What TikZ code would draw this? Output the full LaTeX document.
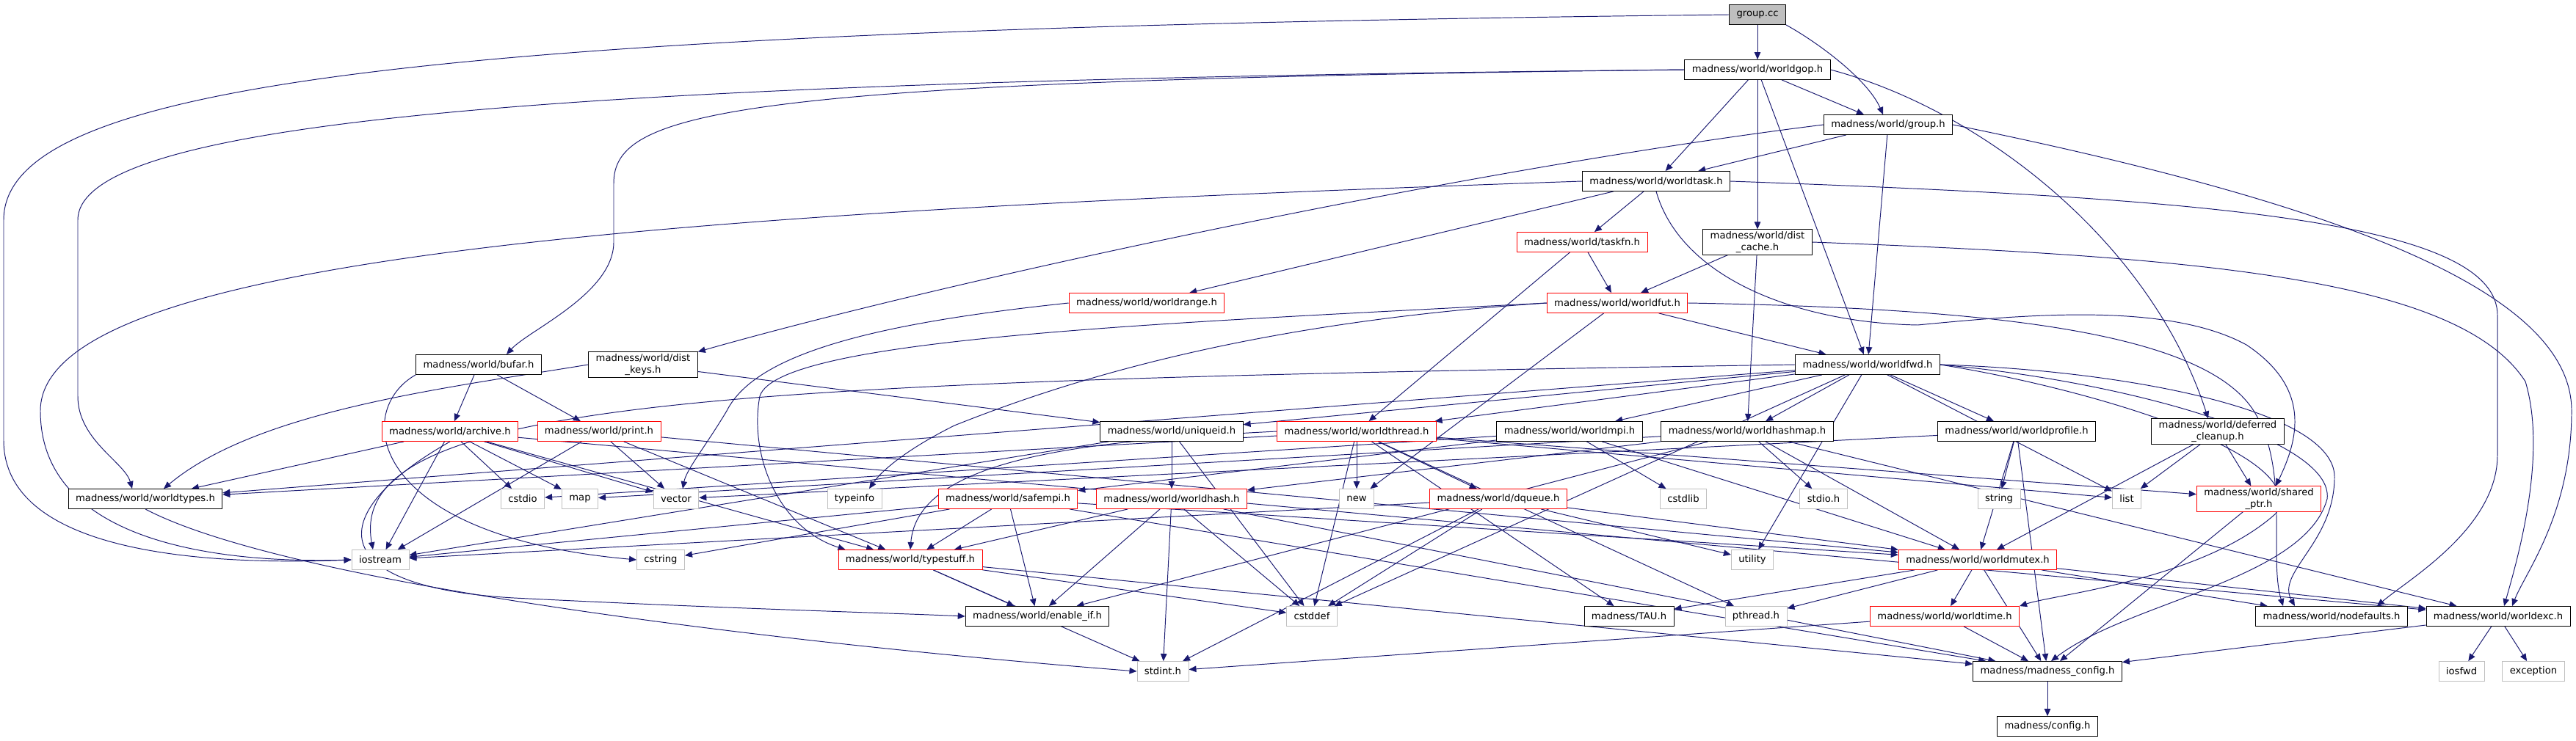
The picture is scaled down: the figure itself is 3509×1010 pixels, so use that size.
\documentclass[tikz,border=0pt]{standalone}
\usepackage{fontspec}
\setmainfont{DejaVu Sans}
\usetikzlibrary{arrows.meta,calc}
\definecolor{edgeblue}{HTML}{191970}
\definecolor{sysgray}{HTML}{BFBFBF}
\pgfdeclarelayer{background}
\pgfsetlayers{background,main}
\begin{document}
\begin{tikzpicture}[
  x=0.02cm, y=-0.02cm,
  hdr/.style={draw=black, fill=white, line width=0.5pt, inner xsep=0.2cm, inner ysep=0.06cm,
    minimum height=0.54cm, align=center, font=\fontsize{7.5}{8.6}\selectfont},
  part/.style={hdr, draw=red},
  sys/.style={hdr, draw=sysgray},
  root/.style={hdr, fill=sysgray},
  dep/.style={draw=edgeblue, line width=0.55pt, -{Triangle[length=0.2cm, width=0.17cm]}}
]
  \useasboundingbox (0,0) rectangle (3509,1010);

  \node[root] (gcc) at (2394,20) {group.cc};
  \node[hdr] (gop) at (2394,95) {madness/world/worldgop.h};
  \node[hdr] (grp) at (2572,170) {madness/world/group.h};
  \node[hdr] (task) at (2256,247) {madness/world/worldtask.h};
  \node[part] (taskfn) at (2155,330) {madness/world/taskfn.h};
  \node[hdr] (dcache) at (2394,330) {madness/world/dist\\\_cache.h};
  \node[part] (range) at (1562,413) {madness/world/worldrange.h};
  \node[part] (fut) at (2203,413) {madness/world/worldfut.h};
  \node[hdr] (bufar) at (652,497) {madness/world/bufar.h};
  \node[hdr] (dkeys) at (876,497) {madness/world/dist\\\_keys.h};
  \node[hdr] (fwd) at (2544,497) {madness/world/worldfwd.h};
  \node[part] (archive) at (613,588) {madness/world/archive.h};
  \node[part] (print) at (816,588) {madness/world/print.h};
  \node[hdr] (uniq) at (1596,588) {madness/world/uniqueid.h};
  \node[part] (thread) at (1848,588) {madness/world/worldthread.h};
  \node[hdr] (mpi) at (2138,588) {madness/world/worldmpi.h};
  \node[hdr] (hashmap) at (2380,588) {madness/world/worldhashmap.h};
  \node[hdr] (profile) at (2747,588) {madness/world/worldprofile.h};
  \node[hdr] (dclean) at (3021,588) {madness/world/deferred\\\_cleanup.h};
  \node[hdr] (types) at (198,680) {madness/world/worldtypes.h};
  \node[sys] (cstdio) at (712,680) {cstdio};
  \node[sys] (map) at (790,680) {map};
  \node[sys] (vector) at (921,680) {vector};
  \node[sys] (typeinfo) at (1164,680) {typeinfo};
  \node[part] (safempi) at (1373,680) {madness/world/safempi.h};
  \node[part] (hash) at (1596,680) {madness/world/worldhash.h};
  \node[sys] (new) at (1848,680) {new};
  \node[part] (dqueue) at (2041,680) {madness/world/dqueue.h};
  \node[sys] (cstdlib) at (2293,680) {cstdlib};
  \node[sys] (stdioh) at (2484,680) {stdio.h};
  \node[sys] (string) at (2723,680) {string};
  \node[sys] (list) at (2897,680) {list};
  \node[part] (sptr) at (3077,680) {madness/world/shared\\\_ptr.h};
  \node[sys] (iostream) at (518,763) {iostream};
  \node[sys] (cstring) at (900,763) {cstring};
  \node[part] (typestuff) at (1240,763) {madness/world/typestuff.h};
  \node[sys] (utility) at (2387,763) {utility};
  \node[part] (mutex) at (2694,763) {madness/world/worldmutex.h};
  \node[hdr] (enableif) at (1413,840) {madness/world/enable\_if.h};
  \node[sys] (cstddef) at (1787,840) {cstddef};
  \node[hdr] (tau) at (2219,840) {madness/TAU.h};
  \node[sys] (pthread) at (2392,840) {pthread.h};
  \node[part] (wtime) at (2649,840) {madness/world/worldtime.h};
  \node[hdr] (nodef) at (3176,840) {madness/world/nodefaults.h};
  \node[hdr] (exc) at (3403,840) {madness/world/worldexc.h};
  \node[sys] (stdint) at (1584,915) {stdint.h};
  \node[hdr] (mconfig) at (2789,915) {madness/madness\_config.h};
  \node[sys] (iosfwd) at (3353,915) {iosfwd};
  \node[sys] (exception) at (3451,915) {exception};
  \node[hdr] (config) at (2789,990) {madness/config.h};

  \begin{pgfonlayer}{background}
  \foreach \a/\b in {gcc/gop, gop/grp, gop/task, gop/dcache, gop/fwd, grp/task, grp/fwd,
      task/taskfn, task/range, taskfn/fut, taskfn/thread, dcache/fut, dcache/hashmap,
      fut/fwd, fut/new, bufar/archive, bufar/print,
      dkeys/uniq, fwd/uniq, fwd/thread, fwd/mpi, fwd/hashmap, fwd/profile, fwd/list, fwd/utility,
      fwd/cstddef, fwd/types, archive/cstdio, archive/map, archive/vector, archive/iostream,
      archive/typestuff, archive/types, archive/exc, print/iostream, print/vector, print/typestuff,
      print/mutex, uniq/hash, uniq/cstddef, uniq/iostream, thread/types, thread/cstddef, thread/new,
      thread/dqueue, thread/tau, thread/pthread, thread/list, thread/sptr,
      mpi/safempi, mpi/cstdlib, mpi/cstdio, mpi/mutex, hashmap/hash, hashmap/mutex, hashmap/stdioh,
      hashmap/exc, hashmap/map, hashmap/enableif, profile/string, profile/mutex, profile/mconfig,
      profile/vector, dclean/list, dclean/sptr, dclean/mutex, sptr/mconfig, safempi/iostream,
      safempi/cstring, safempi/typestuff, safempi/enableif, safempi/mconfig, safempi/mutex,
      hash/typestuff, hash/enableif, hash/stdint, hash/cstddef, hash/mconfig, dqueue/iostream,
      dqueue/cstddef, dqueue/stdint, dqueue/utility, dqueue/mutex, typestuff/enableif,
      typestuff/cstddef, typestuff/stdint, typestuff/mconfig, mutex/tau, mutex/pthread,
      mutex/wtime, mutex/mconfig, mutex/nodef, mutex/exc, wtime/stdint, wtime/mconfig,
      exc/iosfwd, exc/exception, exc/mconfig, mconfig/config}
    \draw[dep] (\a) -- (\b);

  \draw[dep] (gcc.south east) .. controls (2480,60) and (2545,110) .. ($(grp.north)+(-7,0)$);
  \draw[dep] (gcc.west) .. controls (600,40) and (5,110) .. (5,300) -- (5,600)
    .. controls (5,760) and (300,770) .. (iostream.west);
  \draw[dep] (task.west) .. controls (900,290) and (55,350) .. (55,560)
    .. controls (55,740) and (300,768) .. (iostream.west);
  \draw[dep] (gop.west) .. controls (800,110) and (106,160) .. (106,300) -- (106,540)
    .. controls (106,600) and (170,630) .. ($(types.north)+(-18,0)$);
  \draw[dep] (gop.west) .. controls (1000,110) and (836,150) .. (836,250) -- (836,330)
    .. controls (836,400) and (720,450) .. ($(bufar.north)+(38,0)$);
  \draw[dep] (grp.west) .. controls (2000,230) and (1300,380) .. (dkeys.north east);
  \draw[dep] (gop.east) .. controls (2700,150) and (2930,330) .. ($(dclean.north)+(-13,0)$);
  \draw[dep] (grp.east) .. controls (3200,280) and (3503,400) .. (3503,560)
    .. controls (3503,700) and (3440,780) .. ($(exc.north)+(19,0)$);
  \draw[dep] (dcache.east) .. controls (3000,350) and (3350,380) .. (3440,520)
    .. controls (3470,620) and (3430,760) .. ($(exc.north)+(8,0)$);
  \draw[dep] (task.east) .. controls (3000,270) and (3402,300) .. (3402,430) -- (3402,620)
    .. controls (3402,720) and (3280,790) .. ($(nodef.north)+(62,0)$);
  \draw[dep] (task.south) .. controls (2290,380) and (2450,440) .. (2612,443)
    .. controls (2750,430) and (2950,410) .. (3060,470)
    .. controls (3150,530) and (3130,600) .. ($(sptr.north)+(23,0)$);
  \draw[dep] (fut.east) .. controls (2700,420) and (3000,450) .. (3070,560)
    .. controls (3120,640) and (3090,760) .. ($(nodef.north)+(-66,0)$);
  \draw[dep] (fwd.east) .. controls (2900,505) and (3180,560) .. (3180,650)
    .. controls (3180,740) and (3100,780) .. ($(nodef.north)+(-50,0)$);
  \draw[dep] (fwd.east) .. controls (2900,520) and (3180,600) .. (3170,680)
    .. controls (3140,790) and (2900,820) .. ($(mconfig.north)+(5,0)$);
  \draw[dep] (fwd.east) .. controls (2850,530) and (3150,620) .. (3100,700)
    .. controls (3000,790) and (2800,810) .. (wtime.north east);
  \draw[dep] (fut.west) .. controls (1600,440) and (1060,460) .. (1035,540)
    .. controls (1020,620) and (1060,720) .. ($(typestuff.north west)+(10,0)$);
  \draw[dep] (range.west) .. controls (1200,440) and (1030,480) .. (990,560)
    .. controls (960,610) and (935,640) .. ($(vector.north)+(9,0)$);
  \draw[dep] (fut.west) .. controls (1700,440) and (1450,520) .. (1300,580)
    .. controls (1220,620) and (1195,650) .. ($(typeinfo.north)+(20,0)$);
  \draw[dep] (thread.west) .. controls (1500,600) and (1250,620) .. (typestuff.north);
  \draw[dep] (types.south) .. controls (400,800) and (1100,880) .. (stdint.west);
  \draw[dep] (archive.south) .. controls (440,700) and (440,800) .. (700,815)
    .. controls (1000,830) and (1200,835) .. (enableif.west);
  \draw[dep] (bufar.south west) .. controls (480,560) and (500,730) .. (cstring.west);
  \draw[dep] (fwd.west) .. controls (1000,520) and (470,540) .. ($(iostream.north)+(-10,0)$);
  \draw[dep] (dkeys.west) .. controls (600,530) and (350,560) .. ($(types.north)+(25,0)$);
  \end{pgfonlayer}
\end{tikzpicture}
\end{document}
